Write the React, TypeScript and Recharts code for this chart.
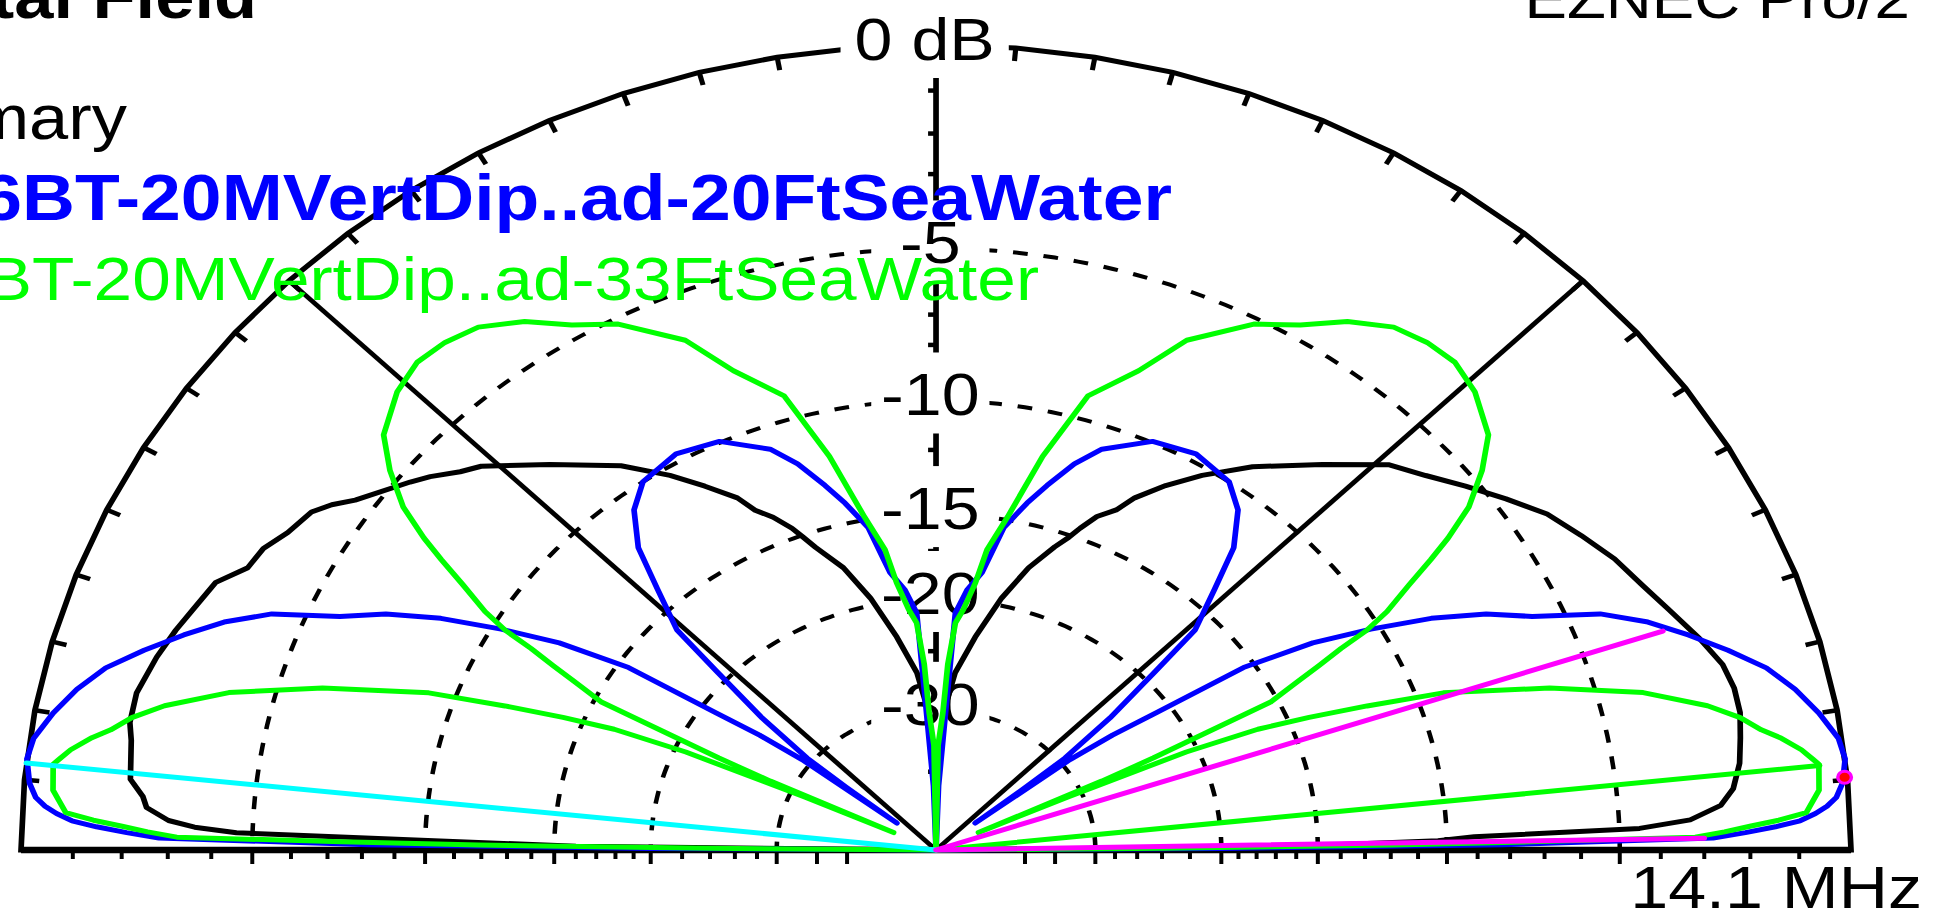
import React from 'react';
import { RadarChart, Radar, PolarGrid, PolarAngleAxis, PolarRadiusAxis } from 'recharts';

// ---- layout (chart is drawn round, then stretched horizontally like the reference) ----
const STRETCH = 915 / 805;
const W = 1706;
const H = 914;
const CX = 823.5;
const CY = 850;
const R = 805;
const FONT = '"Liberation Sans", Arial, Helvetica, sans-serif';

// ARRL log-periodic radial scale (0 dB = outer ring)
const arrl = (db: number) => (db <= -60 ? 0 : Math.pow(0.89, -db / 2));

// ---- axis values ----
const ringDb = [-5, -10, -15, -20, -30];
const labelDb = [0, -5, -10, -15, -20, -30];
const labelText = ['0 dB', '-5', '-10', '-15', '-20', '-30'];
const scaleTickDb = [-1, -2, -3, -4, -5, -6, -7, -8, -9, -10, -11, -12, -13, -14, -15, -16, -17, -18, -19, -20, -22, -24, -26, -28, -30, -35, -40];
const rimTickDeg = [0, 5, 10, 15, 20, 25, 30, 35, 40, 45, 50, 55, 60, 65, 70, 75, 80, 85, 90, 95, 100, 105, 110, 115, 120, 125, 130, 135, 140, 145, 150, 155, 160, 165, 170, 175, 180];
const spokeDeg = [45, 135];
const gridDeg = Array.from({ length: 181 }, (_, i) => i);

// ---- patterns: [elevation deg, dB] ----
const primaryPattern: [number, number][] = [
  [0, -99], [0.7, -16], [1.2, -10.3], [1.6, -9.1], [2, -4.5], [2.6, -3.3], [3.7, -2.6], [5, -2.3], [7, -2.1], [9, -2.0],
  [11, -1.9], [13, -1.9], [15, -2.0], [17.5, -2.3], [20.5, -2.7], [23, -3.0], [26, -3.3], [29, -3.7], [32, -4.1], [35, -4.7],
  [38, -5.3], [41, -5.9], [44, -6.4], [48.6, -7.7], [54, -9.1], [58, -10.3], [61, -11.3], [63.6, -12.3], [65, -13.1], [67, -13.7],
  [68.5, -14.5], [69.5, -15.1], [71, -15.8], [73.9, -17.3], [77.1, -19.5], [80.8, -22.6], [84.6, -25.9], [86.8, -29.6], [88.6, -35.8], [90, -50],
  [91.4, -35.8], [93.2, -29.6], [95.4, -25.9], [99.2, -22.6], [102.9, -19.5], [106.1, -17.3], [109.3, -15.8], [110.5, -15.1], [111.5, -14.5], [113.3, -13.7],
  [115.1, -13.1], [116.4, -12.3], [119.2, -11.3], [122, -10.3], [125.8, -9.1], [131.4, -7.7], [136.2, -6.4], [137.9, -6.1], [140, -5.6], [141.5, -5.3],
  [145.6, -4.5], [147, -4.1], [148.4, -3.8], [150.9, -3.6], [153, -3.3], [155, -3.2], [157.1, -2.7], [159.6, -2.5], [161.8, -2.3], [164.3, -2.1],
  [167.4, -1.9], [169.8, -1.9], [171.2, -2.0], [174.3, -2.1], [175.6, -2.4], [176.5, -2.5], [177.5, -3.0], [178, -3.6], [178.4, -4.6], [178.8, -10.3],
  [179.3, -16], [180, -99],
];

const blue20ftPattern: [number, number][] = [
  [0, -99], [0.35, -20], [0.6, -8.2], [1, -2.8], [1.4, -2.1], [1.8, -1.47], [2.2, -0.97], [2.7, -0.66], [3.2, -0.43], [3.8, -0.24],
  [4.8, -0.1], [6.5, 0], [8, -0.07], [10, -0.35], [12, -0.7], [14, -1.15], [16, -1.8], [18, -2.5], [20, -3.24], [22, -4.2],
  [24, -5.8], [26, -6.9], [28, -8.4], [30, -10.3], [32, -12.4], [34, -15.5], [35.3, -20.9], [36.5, -24.5], [37.5, -29], [38, -50],
  [38.5, -35.6], [39, -29.3], [40.8, -23.7], [42.8, -19.2], [44, -16.0], [46.8, -13.9], [49.1, -12.0], [52, -10.7], [55, -10.0], [60, -9.7],
  [65, -9.95], [70, -10.9], [72.5, -11.8], [75, -13.0], [77, -14.0], [79.5, -15.4], [81.7, -18.1], [84, -19.3], [85.9, -20.95], [86.3, -27.6],
  [88, -43.3], [90, -99],
  [92, -43.3], [93.7, -27.6], [94.1, -20.95], [96, -19.3], [98.3, -18.1], [100.5, -15.4], [103, -14.0], [105, -13.0], [107.5, -11.8], [110, -10.9],
  [115, -9.95], [120, -9.7], [125, -10.0], [128, -10.7], [130.9, -12.0], [133.2, -13.9], [136, -16.0], [137.2, -19.2], [139.2, -23.7], [141, -29.3],
  [141.5, -35.6], [142, -50], [142.5, -29], [143.5, -24.5], [144.7, -20.9], [146, -15.5], [148, -12.4], [150, -10.3], [152, -8.4], [154, -6.9],
  [156, -5.8], [158, -4.2], [160, -3.24], [162, -2.5], [164, -1.8], [166, -1.15], [168, -0.7], [170, -0.35], [172, -0.07], [173.5, 0],
  [175.2, -0.1], [176.2, -0.24], [176.8, -0.43], [177.3, -0.66], [177.8, -0.97], [178.2, -1.47], [178.6, -2.1], [179, -2.8], [179.4, -8.2], [179.65, -20],
  [180, -99],
];

const green33ftPattern: [number, number][] = [
  [0, -99], [0.5, -23.8], [0.7, -11.9], [0.9, -7.4], [1.1, -3.2], [1.5, -2.55], [1.9, -2.0], [2.3, -1.4], [2.8, -0.84], [4.4, -0.56],
  [6.3, -0.51], [6.7, -0.61], [7.5, -0.81], [8.6, -1.19], [9.4, -1.54], [10.6, -1.92], [12, -2.55], [14.2, -3.89], [16.7, -6.12], [19.4, -9.12],
  [20.8, -11.76], [22, -14.1], [23.1, -16.5], [24, -20.7], [24.6, -31.6], [25, -51], [25.3, -27.6], [25.7, -22.9], [26.7, -15.3], [27.9, -13.8],
  [28.7, -12.7], [29.5, -11.6], [30.1, -10.45], [31, -9.5], [32.5, -8.4], [33.7, -7.4], [34.7, -6.6], [36.2, -5.6], [38.3, -4.7], [40.5, -3.96],
  [44, -3.43], [46.9, -3.2], [49.6, -3.24], [52.4, -3.41], [55.6, -3.92], [58.6, -4.62], [62, -5.17], [66.6, -6.37], [69.6, -7.79], [73.6, -9.11],
  [76.6, -11.8], [79.3, -14.85], [81.5, -16.74], [82.6, -18.77], [84.3, -20.66], [85.7, -21.67], [86.8, -25.1], [87.5, -30.4], [89, -35], [90, -99],
  [91, -35], [92.5, -30.4], [93.2, -25.1], [94.3, -21.67], [95.7, -20.66], [97.4, -18.77], [98.5, -16.74], [100.7, -14.85], [103.4, -11.8], [106.4, -9.11],
  [110.4, -7.79], [113.4, -6.37], [118, -5.17], [121.4, -4.62], [124.4, -3.92], [127.6, -3.41], [130.4, -3.24], [133.1, -3.2], [136, -3.43], [139.5, -3.96],
  [141.7, -4.7], [143.8, -5.6], [145.3, -6.6], [146.3, -7.4], [147.5, -8.4], [149, -9.5], [149.9, -10.45], [150.5, -11.6], [151.3, -12.7], [152.1, -13.8],
  [153.3, -15.3], [154.3, -22.9], [154.7, -27.6], [155, -51], [155.4, -31.6], [156, -20.7], [156.9, -16.5], [158, -14.1], [159.2, -11.76], [160.6, -9.12],
  [163.3, -6.12], [165.8, -3.89], [168, -2.55], [169.4, -1.92], [170.6, -1.54], [171.4, -1.19], [172.5, -0.81], [173.3, -0.61], [173.7, -0.51], [175.6, -0.56],
  [177.2, -0.84], [177.7, -1.4], [178.1, -2.0], [178.5, -2.55], [178.9, -3.2], [179.1, -7.4], [179.3, -11.9], [179.5, -23.8], [180, -99],
];

// marker lines
const cyanLine: [number, number][] = [[173.8, -99], [173.8, 0]];
const greenMaxLine: [number, number][] = [[6.2, -99], [6.2, -0.5]];
const magentaLines: [number, number][] = [[1, -99], [1, -3], [18.9, -99], [18.9, -3]];
const maxMarker: [number, number][] = [[5.2, -0.05]];

// ---- helpers ----
const toRadar = (pts: [number, number][]) => pts.map(([el, db]) => ({ el, r: arrl(db) }));
const gridData = gridDeg.map((el) => ({ el, r: 1 }));
const ringR = ringDb.map(arrl);
const labelR = labelDb.map(arrl);
const scaleTickR = scaleTickDb.map(arrl);
const axisTickR = [0, ...scaleTickR, 1];

const hiddenAngle = (ticks?: number[]) => (
  <PolarAngleAxis dataKey="el" type="number" domain={[0, 180]} ticks={ticks} tick={false} tickLine={false} axisLine={false} />
);

const hiddenRadar = <Radar dataKey="r" stroke="none" fill="none" fillOpacity={0} dot={false} isAnimationActive={false} />;

function Layer({ data, children }: { data: any[]; children: React.ReactNode }) {
  return (
    <div style={{ position: 'absolute', left: 0, top: 0 }}>
      <RadarChart
        width={W}
        height={H}
        data={data}
        cx={CX}
        cy={CY}
        innerRadius={0}
        outerRadius={R}
        startAngle={0}
        endAngle={180}
        margin={{ top: 0, right: 0, bottom: 0, left: 0 }}
      >
        {children}
      </RadarChart>
    </div>
  );
}

const baseTick = (props: any) => {
  const { x, y, payload } = props;
  const i = scaleTickR.indexOf(payload.value);
  if (i < 0) return <g />;
  const len = scaleTickDb[i] % 5 === 0 ? 14 : 9;
  return <line x1={x} y1={y + 2} x2={x} y2={y + len} stroke="#000" strokeWidth={3.5} />;
};

const vertTick = (props: any) => {
  const { x, y, payload } = props;
  const i = scaleTickR.indexOf(payload.value);
  if (i < 0) return <g />;
  return <line x1={x - 7} y1={y} x2={x} y2={y} stroke="#000" strokeWidth={4.5} />;
};

const labelTick = (props: any) => {
  const { x, y, payload } = props;
  const i = labelR.indexOf(payload.value);
  if (i < 0) return <g />;
  const first = i === 0;
  const boxW = first ? 148 : 104;
  const tx = x + (first ? -10 : -5);
  return (
    <g>
      <rect x={tx - boxW / 2} y={y - 48} width={boxW} height={81} fill="#fff" />
      <text x={tx} y={y + 15} textAnchor="middle" fontFamily={FONT} fontSize={60} fill="#000">
        {labelText[i]}
      </text>
    </g>
  );
};

const trace = (key: string, color: string, width = 5) => (
  <Radar
    key={key}
    dataKey="r"
    stroke={color}
    strokeWidth={width}
    strokeLinejoin="round"
    fill="none"
    fillOpacity={0}
    dot={false}
    isAnimationActive={false}
  />
);

const radiusProps = { type: 'number' as const, domain: [0, 1], allowDataOverflow: true };

export default function App() {
  return (
    <div
      style={{
        position: 'absolute',
        left: 0,
        top: 0,
        width: W,
        height: H,
        background: '#fff',
        transform: `scaleX(${STRETCH})`,
        transformOrigin: '0 0',
      }}
    >
      {/* dashed dB rings */}
      <Layer data={gridData}>
        {hiddenAngle(gridDeg)}
        <PolarRadiusAxis {...radiusProps} ticks={ringR} tick={false} axisLine={false} />
        <PolarGrid gridType="polygon" radialLines={false} stroke="#000" strokeWidth={4} strokeDasharray="13 14" />
        {hiddenRadar}
      </Layer>

      {/* outer 0 dB ring with 5-degree ticks */}
      <Layer data={gridData}>
        <PolarAngleAxis
          dataKey="el"
          type="number"
          domain={[0, 180]}
          ticks={rimTickDeg}
          tick={false}
          axisLineType="polygon"
          axisLine={{ stroke: '#000', strokeWidth: 5 }}
          tickLine={{ stroke: '#000', strokeWidth: 4.5 }}
          tickSize={13}
          orientation="inner"
        />
        <PolarRadiusAxis {...radiusProps} tick={false} axisLine={false} />
        {hiddenRadar}
      </Layer>

      {/* 45 degree spokes */}
      <Layer data={gridData}>
        {hiddenAngle(spokeDeg)}
        <PolarRadiusAxis {...radiusProps} tick={false} axisLine={false} />
        <PolarGrid gridType="polygon" polarRadius={[]} radialLines stroke="#000" strokeWidth={4.5} />
        {hiddenRadar}
      </Layer>

      {/* baseline right */}
      <Layer data={gridData}>
        {hiddenAngle()}
        <PolarRadiusAxis {...radiusProps} angle={0} ticks={axisTickR} tick={baseTick} tickLine={false} axisLine={{ stroke: '#000', strokeWidth: 6.5 }} />
        {hiddenRadar}
      </Layer>

      {/* baseline left */}
      <Layer data={gridData}>
        {hiddenAngle()}
        <PolarRadiusAxis {...radiusProps} angle={180} ticks={axisTickR} tick={baseTick} tickLine={false} axisLine={{ stroke: '#000', strokeWidth: 6.5 }} />
        {hiddenRadar}
      </Layer>

      {/* vertical axis */}
      <Layer data={gridData}>
        {hiddenAngle()}
        <PolarRadiusAxis {...radiusProps} angle={90} ticks={axisTickR} tick={vertTick} tickLine={false} axisLine={{ stroke: '#000', strokeWidth: 5 }} />
        {hiddenRadar}
      </Layer>

      {/* dB labels */}
      <Layer data={gridData}>
        {hiddenAngle()}
        <PolarRadiusAxis {...radiusProps} angle={90} ticks={labelR} tick={labelTick} tickLine={false} axisLine={false} />
        {hiddenRadar}
      </Layer>

      {/* patterns */}
      <Layer data={toRadar(primaryPattern)}>
        {hiddenAngle()}
        <PolarRadiusAxis {...radiusProps} tick={false} axisLine={false} />
        {trace('primary', '#000000')}
      </Layer>
      <Layer data={toRadar(blue20ftPattern)}>
        {hiddenAngle()}
        <PolarRadiusAxis {...radiusProps} tick={false} axisLine={false} />
        {trace('blue', '#0000ff')}
      </Layer>
      <Layer data={toRadar(green33ftPattern)}>
        {hiddenAngle()}
        <PolarRadiusAxis {...radiusProps} tick={false} axisLine={false} />
        {trace('green', '#00ff00')}
      </Layer>

      {/* marker lines */}
      <Layer data={toRadar(greenMaxLine)}>
        {hiddenAngle()}
        <PolarRadiusAxis {...radiusProps} tick={false} axisLine={false} />
        {trace('gline', '#00ff00')}
      </Layer>
      <Layer data={toRadar(cyanLine)}>
        {hiddenAngle()}
        <PolarRadiusAxis {...radiusProps} tick={false} axisLine={false} />
        {trace('cyan', '#00ffff')}
      </Layer>
      <Layer data={toRadar(magentaLines)}>
        {hiddenAngle()}
        <PolarRadiusAxis {...radiusProps} tick={false} axisLine={false} />
        {trace('magenta', '#ff00ff')}
      </Layer>
      <Layer data={toRadar(maxMarker)}>
        {hiddenAngle()}
        <PolarRadiusAxis {...radiusProps} tick={false} axisLine={false} />
        <Radar
          dataKey="r"
          stroke="none"
          fill="none"
          dot={{ r: 6, fill: '#ff0000', stroke: '#ff00ff', strokeWidth: 3 }}
          isAnimationActive={false}
        />
      </Layer>

      {/* titles and legend */}
      <svg width={W} height={H} style={{ position: 'absolute', left: 0, top: 0 }}>
        <g fontFamily={FONT}>
          <text x={257 / STRETCH} y={18} textAnchor="end" fontWeight="bold" fontSize={62} fill="#000">Total Field</text>
          <text x={1910 / STRETCH} y={18} textAnchor="end" fontSize={56} fill="#000">EZNEC Pro/2</text>
          <text x={127 / STRETCH} y={139} textAnchor="end" fontSize={62} fill="#000">Primary</text>
          <text x={1172 / STRETCH} y={220} textAnchor="end" fontWeight="bold" fontSize={64.5} fill="#0000ff">6BT-20MVertDip..ad-20FtSeaWater</text>
          <text x={1039 / STRETCH} y={300} textAnchor="end" fontSize={61} fill="#00ff00">6BT-20MVertDip..ad-33FtSeaWater</text>
          <text x={1922 / STRETCH} y={908} textAnchor="end" fontSize={60} fill="#000">14.1 MHz</text>
        </g>
      </svg>
    </div>
  );
}
